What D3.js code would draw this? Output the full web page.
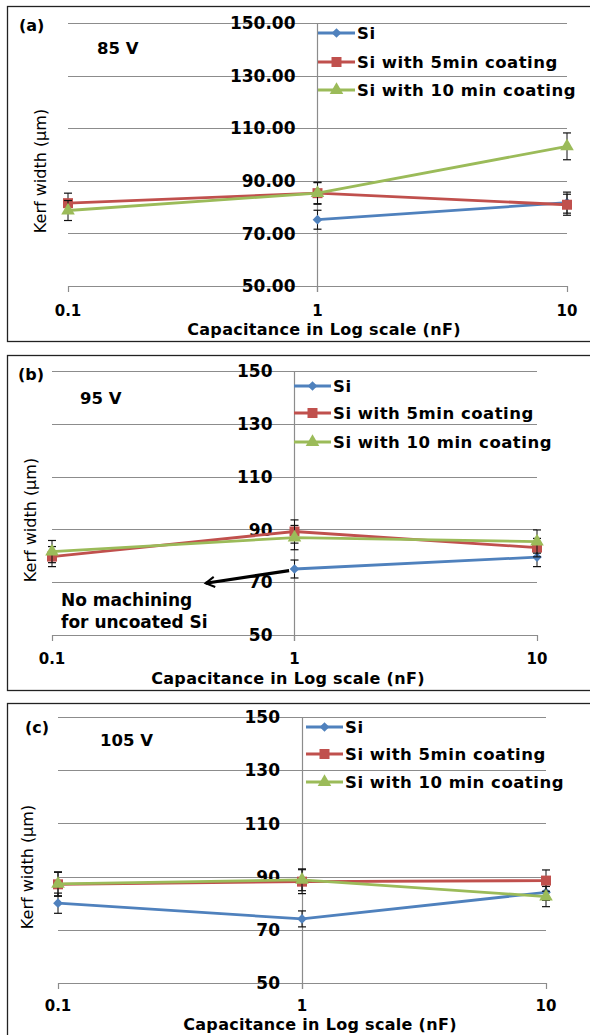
<!DOCTYPE html>
<html>
<head>
<meta charset="utf-8">
<script src="https://cdn.jsdelivr.net/npm/d3@7"></script>
<style>
  body { margin: 0; background: #fff; }
  text { font-family: "DejaVu Sans", sans-serif; fill: #000; }
</style>
</head>
<body>
<div id="chart"></div>
<script>
// Kerf width vs capacitance, three voltages

var width = 590
var height = 1035

// data
var capacitance = [0.1, 1, 10]
var seriesNames = ["Si", "Si with 5min coating", "Si with 10 min coating"]
var yTicks = [50, 70, 90, 110, 130, 150]
var panelLabels = ["(a)", "(b)", "(c)"]
var voltages = ["85 V", "95 V", "105 V"]

var si85 = [null, 75.2, 81.7]
var si85Err = [null, 3.6, 4.0]
var coat5_85 = [81.5, 85.3, 80.9]
var coat5_85Err = [3.8, 4.0, 4.0]
var coat10_85 = [78.7, 85.3, 103.1]
var coat10_85Err = [3.8, 4.2, 5.1]

var si95 = [null, 75.0, 79.5]
var si95Err = [null, 3.4, 3.6]
var coat5_95 = [79.7, 89.2, 83.1]
var coat5_95Err = [3.8, 4.4, 3.5]
var coat10_95 = [81.6, 86.9, 85.4]
var coat10_95Err = [4.2, 4.6, 4.4]

var si105 = [80.0, 74.1, 84.1]
var si105Err = [3.8, 3.0, 3.0]
var coat5_105 = [87.1, 88.1, 88.5]
var coat5_105Err = [4.5, 4.5, 4.0]
var coat10_105 = [87.3, 88.8, 82.5]
var coat10_105Err = [4.5, 4.1, 3.8]

var colors = ["#4F81BD", "#C0504D", "#9BBB59"]
var markers = ["diamond", "square", "triangle"]

// layout of each panel (pixels)
var panels = [
  { top: 6, bottom: 341, x0: 68, x1: 567, yTop: 23, yBot: 286, fmt: ".2f",
    labelY: 25, labelX: 19, voltX: 97, voltY: 48, tickY: 311, titleY: 329, titleX: 324, yTitleX: 40, yTitleY: 171,
    legX: 318, legRows: [33, 62, 90],
    values: [si85, coat5_85, coat10_85], errs: [si85Err, coat5_85Err, coat10_85Err] },
  { top: 355, bottom: 690, x0: 52, x1: 537, yTop: 371, yBot: 635, fmt: "d",
    labelY: 374, labelX: 18, voltX: 80, voltY: 398, tickY: 659, titleY: 678, titleX: 288, yTitleX: 30, yTitleY: 520,
    legX: 294, legRows: [386, 413, 442],
    values: [si95, coat5_95, coat10_95], errs: [si95Err, coat5_95Err, coat10_95Err] },
  { top: 703, bottom: 1045, x0: 58, x1: 546, yTop: 717, yBot: 983, fmt: "d",
    labelY: 727, labelX: 25, voltX: 100, voltY: 740, tickY: 1006, titleY: 1024, titleX: 320, yTitleX: 27, yTitleY: 867,
    legX: 306, legRows: [727, 754, 782],
    values: [si105, coat5_105, coat10_105], errs: [si105Err, coat5_105Err, coat10_105Err] }
]

var svg = d3.select("#chart")
  .append("svg")
    .attr("width", width)
    .attr("height", height)

svg.append("defs").append("marker")
  .attr("id", "arrowhead")
  .attr("viewBox", "0 0 10 10")
  .attr("refX", 8).attr("refY", 5)
  .attr("markerWidth", 4).attr("markerHeight", 4)
  .attr("orient", "auto")
  .append("path")
    .attr("d", "M1,1 L8,5 L1,9")
    .attr("fill", "none").attr("stroke", "#000").attr("stroke-width", 1.6)

function markerPath(type) {
  if (type == "diamond") return d3.symbol().type(d3.symbolDiamond2).size(60)()
  if (type == "square") return d3.symbol().type(d3.symbolSquare).size(100)()
  return d3.symbol().type(d3.symbolTriangle).size(80)()
}

panels.forEach(function(p, pi) {
  var g = svg.append("g")

  // frame
  g.append("rect")
    .attr("x", 7.5).attr("y", p.top + 0.5)
    .attr("width", 600).attr("height", p.bottom - p.top)
    .attr("fill", "white").attr("stroke", "#222").attr("stroke-width", 1.3)

  var x = d3.scaleLog().domain([0.1, 10]).range([p.x0, p.x1])
  var y = d3.scaleLinear().domain([50, 150]).range([p.yBot, p.yTop])

  // gridlines
  g.selectAll(".grid")
    .data(yTicks)
    .enter()
    .append("line")
      .attr("x1", p.x0).attr("x2", p.x1)
      .attr("y1", function(d) { return Math.round(y(d)) + 0.5 })
      .attr("y2", function(d) { return Math.round(y(d)) + 0.5 })
      .attr("stroke", "#8c8c8c").attr("stroke-width", 1.2)

  // vertical axis at 1 nF, plus bottom ticks
  g.append("line")
    .attr("x1", Math.round(x(1)) + 0.5).attr("x2", Math.round(x(1)) + 0.5)
    .attr("y1", y(150)).attr("y2", y(50) + 6)
    .attr("stroke", "#8c8c8c").attr("stroke-width", 1.2)
  g.selectAll(".xt")
    .data(capacitance)
    .enter()
    .append("line")
      .attr("x1", function(d) { return Math.round(x(d)) + 0.5 })
      .attr("x2", function(d) { return Math.round(x(d)) + 0.5 })
      .attr("y1", y(50)).attr("y2", y(50) + 6)
      .attr("stroke", "#8c8c8c").attr("stroke-width", 1.2)

  // y tick labels (sit beside the 1 nF axis)
  g.selectAll(".yl")
    .data(yTicks)
    .enter()
    .append("text")
      .attr("x", x(1) - 22)
      .attr("y", function(d) { return y(d) })
      .attr("dy", "0.36em")
      .attr("text-anchor", "end")
      .style("font-weight", "bold").style("font-size", "17px")
      .text(function(d) { return d3.format(p.fmt)(d) })

  // x tick labels
  g.selectAll(".xl")
    .data(capacitance)
    .enter()
    .append("text")
      .attr("x", function(d) { return x(d) })
      .attr("y", p.tickY)
      .attr("dy", "0.36em")
      .attr("text-anchor", "middle")
      .style("font-weight", "bold").style("font-size", "15px")
      .text(function(d) { return d })

  g.append("text")
    .attr("x", p.titleX).attr("y", p.titleY).attr("dy", "0.36em")
    .attr("text-anchor", "middle")
    .style("font-weight", "bold").style("font-size", "16px")
    .style("letter-spacing", "0.3px")
    .text("Capacitance in Log scale (nF)")

  g.append("text")
    .attr("transform", "translate(" + p.yTitleX + "," + p.yTitleY + ") rotate(-90)")
    .attr("dy", "0.36em")
    .attr("text-anchor", "middle")
    .style("font-size", "16px")
    .text("Kerf width (\u00b5m)")

  g.append("text")
    .attr("x", p.labelX).attr("y", p.labelY).attr("dy", "0.36em")
    .style("font-weight", "bold").style("font-size", "16px")
    .text(panelLabels[pi])
  g.append("text")
    .attr("x", p.voltX).attr("y", p.voltY).attr("dy", "0.36em")
    .style("font-weight", "bold").style("font-size", "16.5px")
    .text(voltages[pi])

  // series
  seriesNames.forEach(function(name, si) {
    var pts = capacitance.map(function(c, i) {
      return { c: c, v: p.values[si][i], e: p.errs[si][i] }
    }).filter(function(d) { return d.v != null })

    var line = d3.line()
      .x(function(d) { return x(d.c) })
      .y(function(d) { return y(d.v) })

    g.append("path")
      .datum(pts)
      .attr("d", line)
      .attr("fill", "none")
      .attr("stroke", colors[si])
      .attr("stroke-width", 2.8)

    // error bars
    var eb = g.append("g").selectAll("g")
      .data(pts)
      .enter()
      .append("g")
    eb.append("line")
      .attr("x1", function(d) { return x(d.c) }).attr("x2", function(d) { return x(d.c) })
      .attr("y1", function(d) { return y(d.v + d.e) }).attr("y2", function(d) { return y(d.v - d.e) })
      .attr("stroke", "#111").attr("stroke-width", 1)
    eb.append("line")
      .attr("x1", function(d) { return x(d.c) - 4 }).attr("x2", function(d) { return x(d.c) + 4 })
      .attr("y1", function(d) { return y(d.v + d.e) }).attr("y2", function(d) { return y(d.v + d.e) })
      .attr("stroke", "#111").attr("stroke-width", 1.2)
    eb.append("line")
      .attr("x1", function(d) { return x(d.c) - 4 }).attr("x2", function(d) { return x(d.c) + 4 })
      .attr("y1", function(d) { return y(d.v - d.e) }).attr("y2", function(d) { return y(d.v - d.e) })
      .attr("stroke", "#111").attr("stroke-width", 1.2)

    g.append("g").selectAll("path")
      .data(pts)
      .enter()
      .append("path")
        .attr("d", markerPath(markers[si]))
        .attr("transform", function(d) { return "translate(" + x(d.c) + "," + y(d.v) + ")" })
        .attr("fill", colors[si])

    // legend entry
    var ly = p.legRows[si]
    g.append("line")
      .attr("x1", p.legX).attr("x2", p.legX + 37)
      .attr("y1", ly).attr("y2", ly)
      .attr("stroke", colors[si]).attr("stroke-width", 2.8)
    g.append("path")
      .attr("d", markerPath(markers[si]))
      .attr("transform", "translate(" + (p.legX + 18.5) + "," + ly + ")")
      .attr("fill", colors[si])
    g.append("text")
      .attr("x", p.legX + 39).attr("y", ly).attr("dy", "0.36em")
      .style("font-weight", "bold").style("font-size", "16.5px")
      .style("letter-spacing", "0.5px")
      .text(name)
  })

  // annotation in panel (b)
  if (pi == 1) {
    g.append("line")
      .attr("x1", x(0.95)).attr("y1", y(74.4))
      .attr("x2", x(0.43)).attr("y2", y(69.6))
      .attr("stroke", "#000").attr("stroke-width", 3.2)
      .attr("marker-end", "url(#arrowhead)")
    g.append("text")
      .attr("x", 61).attr("y", 600).attr("dy", "0.36em")
      .style("font-weight", "bold").style("font-size", "17px")
      .text("No machining")
    g.append("text")
      .attr("x", 61).attr("y", 622).attr("dy", "0.36em")
      .style("font-weight", "bold").style("font-size", "17px")
      .text("for uncoated Si")
  }
})
</script>
</body>
</html>
